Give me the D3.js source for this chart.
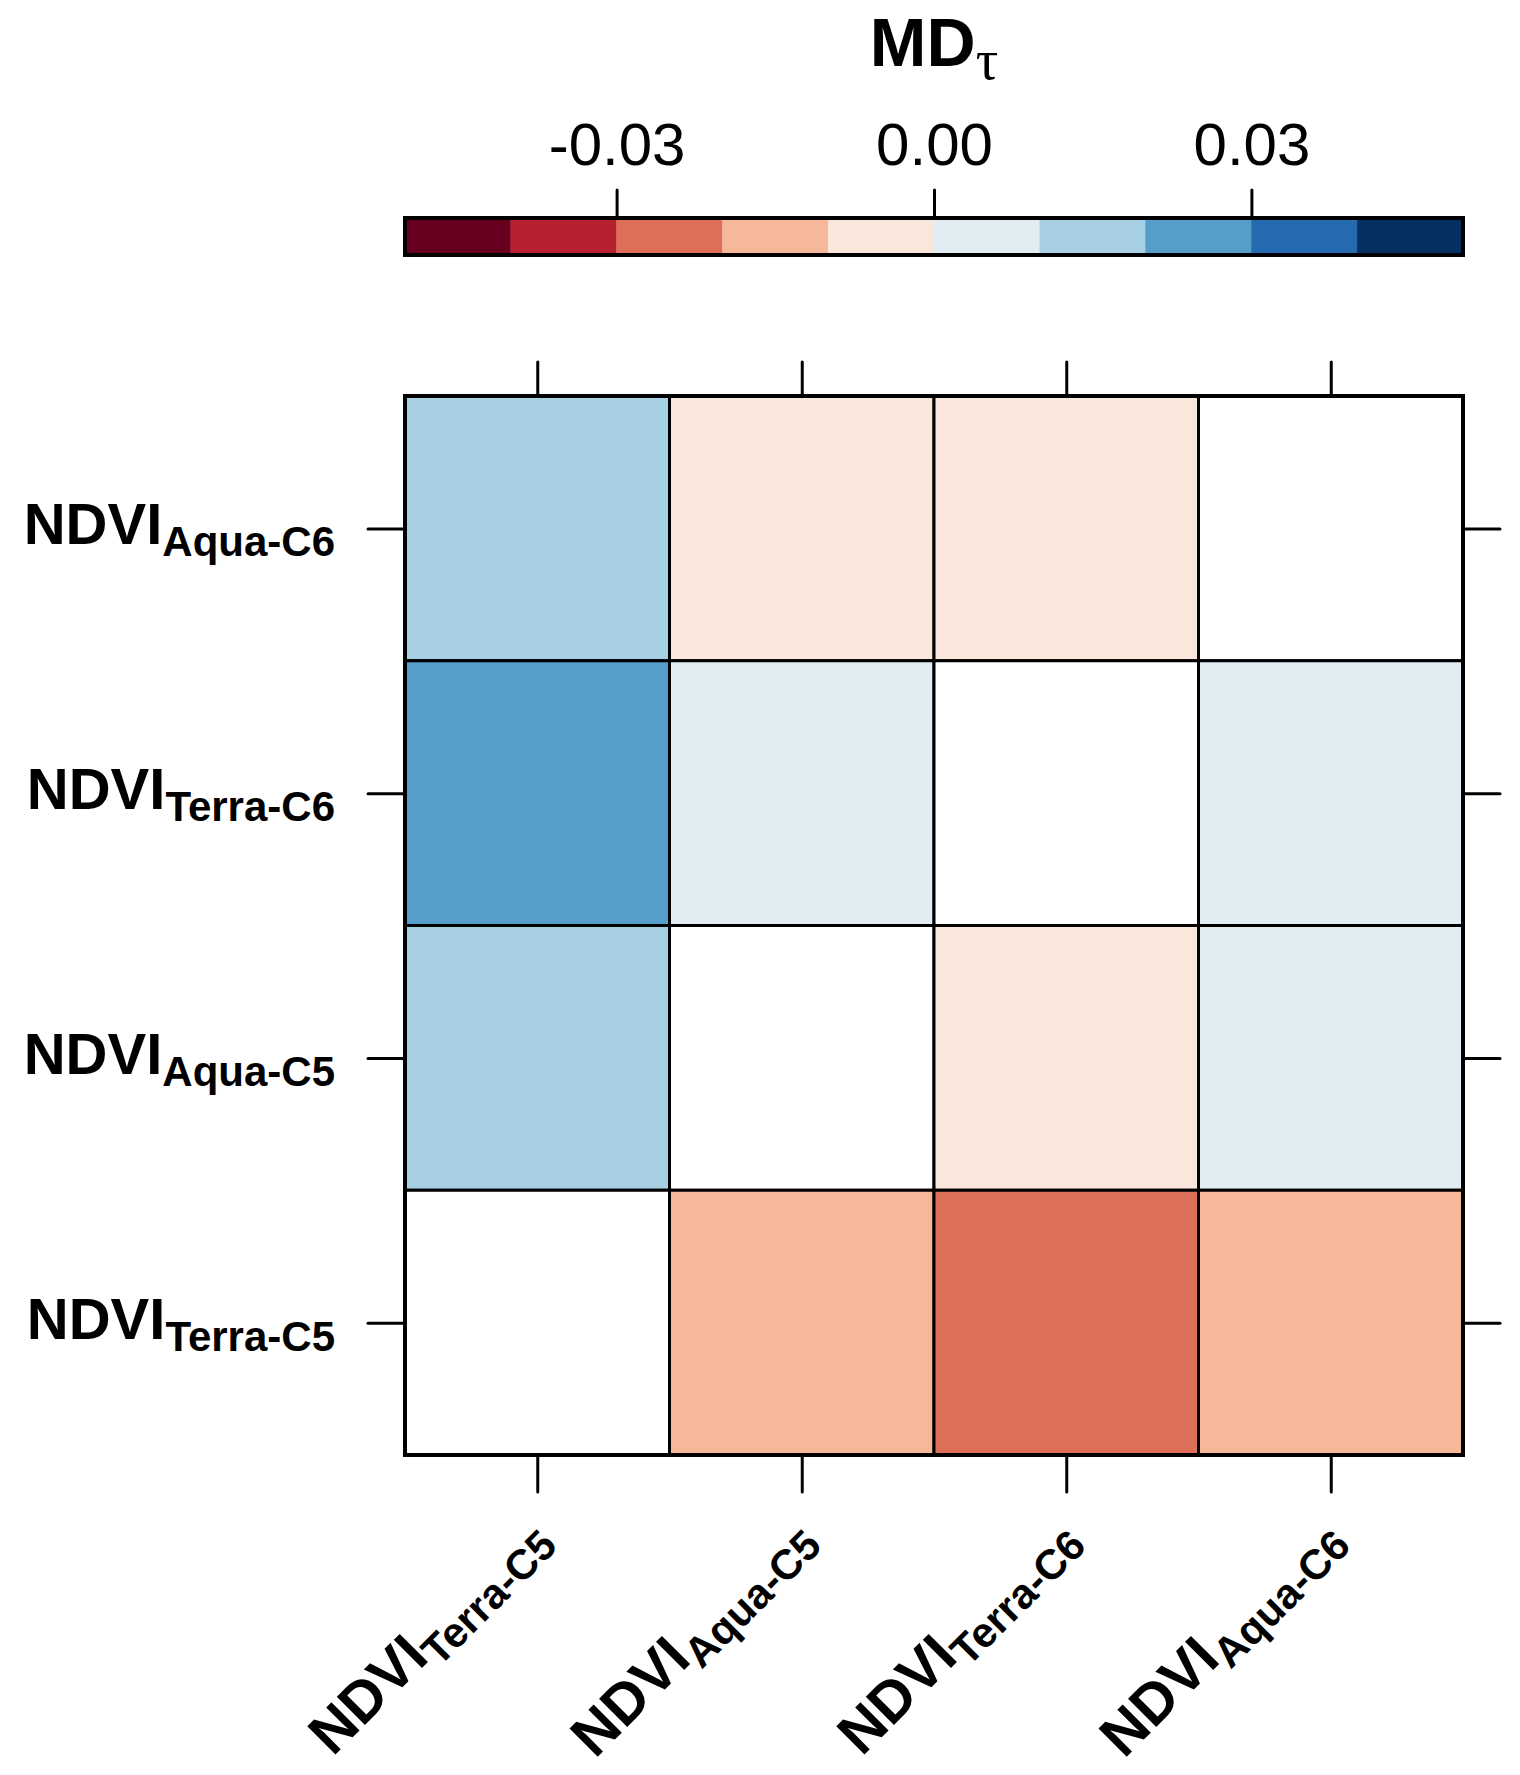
<!DOCTYPE html>
<html><head><meta charset="utf-8">
<script src="https://cdn.jsdelivr.net/npm/d3@7"></script>
<style>body{margin:0;background:#fff}svg{display:block}</style>
</head><body>
<svg id="c" width="1520" height="1775"></svg>
<script>
// ---- data ----
const colLabels = ["Terra-C5", "Aqua-C5", "Terra-C6", "Aqua-C6"];
const rowLabels = ["Aqua-C6", "Terra-C6", "Aqua-C5", "Terra-C5"]; // top to bottom
// values: rows (top to bottom) x columns; null = no value (diagonal)
const rowAquaC6  = [0.015, -0.005, -0.004, null];
const rowTerraC6 = [0.025,  0.004,  null,  0.003];
const rowAquaC5  = [0.014,  null,  -0.003, 0.002];
const rowTerraC5 = [null,  -0.014, -0.024, -0.012];
const values = [rowAquaC6, rowTerraC6, rowAquaC5, rowTerraC5];
const breaks = [-0.04, -0.03, -0.02, -0.01, 0, 0.01, 0.02, 0.03, 0.04];
const palette = ["#67001F","#B6202F","#DD6F59","#F7B799","#FAE7DC","#E2EDF3","#A7D0E4","#559EC9","#256BAF","#053061"];
const keyTicks = [-0.03, 0, 0.03];
const keyTickLabels = ["-0.03", "0.00", "0.03"];
const keyDomain = [-0.05, 0.05];

// ---- layout ----
const L = 405, R = 1463, T = 396, B = 1455;
const svg = d3.select("#c");
const font = "'Liberation Sans', Arial, sans-serif";

const x = d3.scaleBand().domain(colLabels).range([L, R]);
const y = d3.scaleBand().domain(rowLabels).range([T, B]);
const color = d3.scaleThreshold().domain(breaks).range(palette);

// cells
const cells = [];
values.forEach((row, i) => row.forEach((v, j) => cells.push({r: rowLabels[i], c: colLabels[j], v})));
svg.append("g").selectAll("rect").data(cells).join("rect")
  .attr("x", d => x(d.c)).attr("y", d => y(d.r))
  .attr("width", x.bandwidth()).attr("height", y.bandwidth())
  .attr("fill", d => d.v == null ? "#fff" : color(d.v))
  .attr("stroke", "#000").attr("stroke-width", 3);
svg.append("rect").attr("x", L).attr("y", T).attr("width", R - L).attr("height", B - T)
  .attr("fill", "none").attr("stroke", "#000").attr("stroke-width", 4);

// axes ticks
function ticks(axis, tx, ty) {
  const g = svg.append("g").attr("transform", `translate(${tx},${ty})`).call(axis);
  g.select(".domain").remove();
  g.selectAll("line").attr("stroke", "#000").attr("stroke-width", 3).attr("stroke-linecap", "round");
  g.selectAll("text").remove();
}
const xc = d3.scalePoint().domain(colLabels).range([L + x.bandwidth()/2, R - x.bandwidth()/2]);
const yc = d3.scalePoint().domain(rowLabels).range([T + y.bandwidth()/2, B - y.bandwidth()/2]);
ticks(d3.axisTop(xc).tickSize(34), 0, T);
ticks(d3.axisBottom(xc).tickSize(37), 0, B);
ticks(d3.axisLeft(yc).tickSize(37), L, 0);
ticks(d3.axisRight(yc).tickSize(37), R, 0);

// y labels
svg.append("g").selectAll("text").data(rowLabels).join("text")
  .attr("x", 335).attr("y", d => yc(d) + 16)
  .attr("text-anchor", "end").attr("font-family", font).attr("font-weight", "bold")
  .attr("font-size", 58)
  .each(function(d) {
    const t = d3.select(this);
    t.append("tspan").text("NDVI");
    t.append("tspan").attr("dy", 12).attr("font-size", 42).text(d);
  });

// x labels (rotated)
svg.append("g").selectAll("g").data(colLabels).join("g")
  .attr("transform", d => `translate(${xc(d) + 2},1528) rotate(-45)`)
  .append("text")
  .attr("x", 0).attr("y", 16)
  .attr("text-anchor", "end").attr("font-family", font).attr("font-weight", "bold")
  .attr("font-size", 58)
  .each(function(d) {
    const t = d3.select(this);
    t.append("tspan").text("NDVI");
    t.append("tspan").attr("dy", 12).attr("font-size", 42).text(d);
  });

// color key
const kx = d3.scaleLinear().domain(keyDomain).range([L, R]);
const KT = 218, KB = 255;
const segEdges = [keyDomain[0], ...breaks, keyDomain[1]];
svg.append("g").selectAll("rect").data(palette).join("rect")
  .attr("x", (d, i) => kx(segEdges[i])).attr("y", KT)
  .attr("width", (d, i) => kx(segEdges[i + 1]) - kx(segEdges[i])).attr("height", KB - KT)
  .attr("fill", d => d).attr("stroke", d => d).attr("stroke-width", 0.5);
svg.append("rect").attr("x", L).attr("y", KT).attr("width", R - L).attr("height", KB - KT)
  .attr("fill", "none").attr("stroke", "#000").attr("stroke-width", 4);
const kg = svg.append("g").attr("transform", `translate(0,${KT})`)
  .call(d3.axisTop(kx).tickValues(keyTicks).tickSize(28).tickFormat((d, i) => keyTickLabels[i]).tickPadding(25));
kg.select(".domain").remove();
kg.selectAll("line").attr("stroke", "#000").attr("stroke-width", 3).attr("stroke-linecap", "round");
kg.selectAll("text").attr("font-family", font).attr("font-size", 60).attr("fill", "#000");

// title
const title = svg.append("text").attr("x", (L + R) / 2).attr("y", 66)
  .attr("text-anchor", "middle").attr("font-family", font).attr("font-weight", "bold").attr("font-size", 68);
title.append("tspan").text("MD");
title.append("tspan").attr("dy", 13).attr("font-size", 56).attr("font-weight", "normal")
  .attr("font-family", "'Liberation Serif', 'Times New Roman', serif").text("τ");
</script>
</body></html>
